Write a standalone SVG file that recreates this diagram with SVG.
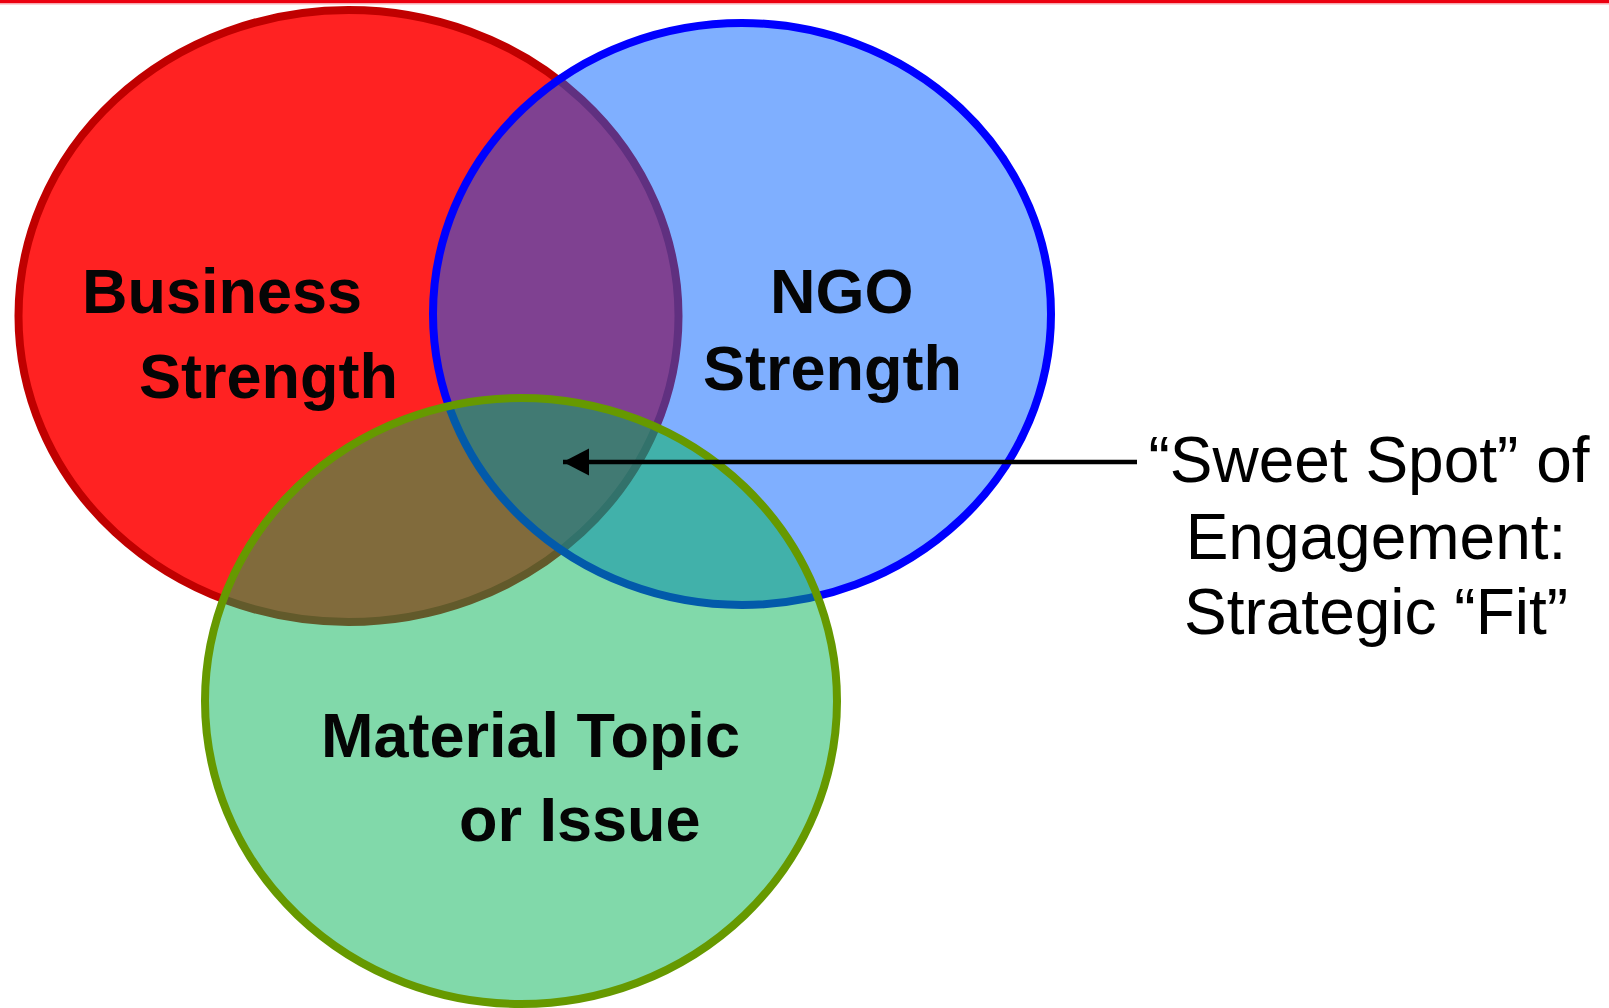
<svg xmlns="http://www.w3.org/2000/svg" width="1609" height="1008" viewBox="0 0 1609 1008">
<defs>
<style>
.lbl{font-family:"Liberation Sans",Arial,sans-serif;font-weight:bold;font-size:63px;fill:#050505}
.note{font-family:"Liberation Sans",Arial,sans-serif;font-size:64px;fill:#000;text-anchor:middle}
.ring{stroke-width:8}
</style>
<marker id="ah" markerUnits="userSpaceOnUse" markerWidth="28" markerHeight="28" refX="27" refY="14" orient="auto">
<path d="M27,14 L1,0.5 L1,27.5 Z" fill="#000"/>
</marker>
</defs>
<rect x="0" y="0" width="1609" height="1008" fill="#fff"/>
<rect x="0" y="0" width="1609" height="3" fill="#EC0010"/>
<rect x="0" y="3" width="1609" height="1.5" fill="#F7A8B0"/>
<g id="business">
<ellipse class="ring" cx="348.5" cy="316" rx="330" ry="306" fill="#FF2222" stroke="#C00000"/>
<text class="lbl" x="82" y="313">Business</text>
<text class="lbl" x="139" y="398">Strength</text>
</g>
<g id="ngo">
<ellipse class="ring" cx="742" cy="314" rx="309" ry="291" fill="#0060FF" fill-opacity="0.5" stroke="#0000FF"/>
<text class="lbl" x="770" y="313">NGO</text>
<text class="lbl" x="703" y="390">Strength</text>
</g>
<g id="material">
<ellipse class="ring" cx="521" cy="701" rx="316" ry="303" fill="#04B455" fill-opacity="0.5" stroke="#669900"/>
<text class="lbl" x="321" y="757">Material Topic</text>
<text class="lbl" x="459" y="841">or Issue</text>
</g>
<g id="connectors">
<line x1="1137" y1="462" x2="563" y2="462" stroke="#000" stroke-width="4.5" marker-end="url(#ah)"/>
</g>
<g id="sweet-spot">
<text class="note" x="1369" y="482">“Sweet Spot” of</text>
<text class="note" x="1376" y="559">Engagement:</text>
<text class="note" x="1376" y="634">Strategic “Fit”</text>
</g>
</svg>
